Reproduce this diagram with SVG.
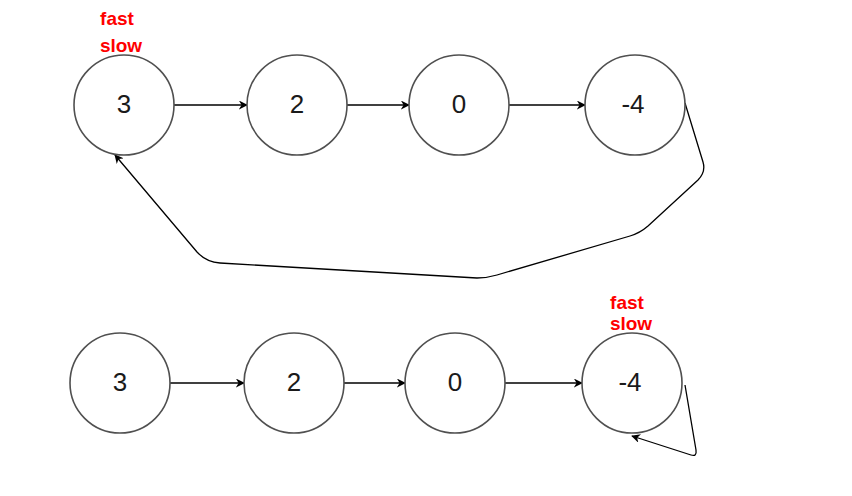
<svg xmlns="http://www.w3.org/2000/svg" width="852" height="496" viewBox="0 0 852 496">
<style>
.n circle{fill:#fff;stroke:#505050;stroke-width:1.6}
.n text{font-family:"Liberation Sans",Arial,sans-serif;font-size:26px;fill:#1a1a1a;text-anchor:middle;dominant-baseline:central}
.lbl{font-family:"Liberation Sans",Arial,sans-serif;font-size:19px;font-weight:bold;fill:#ff0000;text-anchor:middle}
.c path{fill:none;stroke:#000;stroke-width:1.3}
</style>
<defs>
<marker id="ah" viewBox="0 0 10 10" refX="9" refY="5" markerWidth="9" markerHeight="9" markerUnits="userSpaceOnUse" orient="auto">
<path d="M0,0 L10,5 L0,10 L3,5 Z" fill="#000"/>
</marker>
</defs>
<rect width="852" height="496" fill="#fff"/>
<g class="c">
<path d="M174,105 L247,105" marker-end="url(#ah)"/>
<path d="M347,105 L409,105" marker-end="url(#ah)"/>
<path d="M509,105 L585,105" marker-end="url(#ah)"/>
<path d="M685,103 L703,162 Q706,172 698,180 L648,226 Q640,233 630,236 L497,275 Q487,278 477,278 L220,263 Q206,262 197,252 L115,155" marker-end="url(#ah)"/>
<path d="M170,383 L244,383" marker-end="url(#ah)"/>
<path d="M344,383 L405,383" marker-end="url(#ah)"/>
<path d="M505,383 L582,383" marker-end="url(#ah)"/>
<path d="M685,385 L696,450 Q697,457 691,455 L632,436" marker-end="url(#ah)"/>
</g>
<g id="t3" class="n"><circle cx="124" cy="105" r="50"/><text x="124" y="104">3</text></g>
<g id="t2" class="n"><circle cx="297" cy="105" r="50"/><text x="297" y="104">2</text></g>
<g id="t0" class="n"><circle cx="459" cy="105" r="50"/><text x="459" y="104">0</text></g>
<g id="t4" class="n"><circle cx="635" cy="105" r="50"/><text x="633" y="104">-4</text></g>
<g id="b3" class="n"><circle cx="120" cy="383" r="50"/><text x="120" y="382">3</text></g>
<g id="b2" class="n"><circle cx="294" cy="383" r="50"/><text x="294" y="382">2</text></g>
<g id="b0" class="n"><circle cx="455" cy="383" r="50"/><text x="455" y="382">0</text></g>
<g id="b4" class="n"><circle cx="632" cy="383" r="50"/><text x="630" y="382">-4</text></g>
<g id="labels">
<text class="lbl" x="117" y="25">fast</text>
<text class="lbl" x="121" y="52">slow</text>
<text class="lbl" x="627" y="309">fast</text>
<text class="lbl" x="631" y="330">slow</text>
</g>
</svg>
